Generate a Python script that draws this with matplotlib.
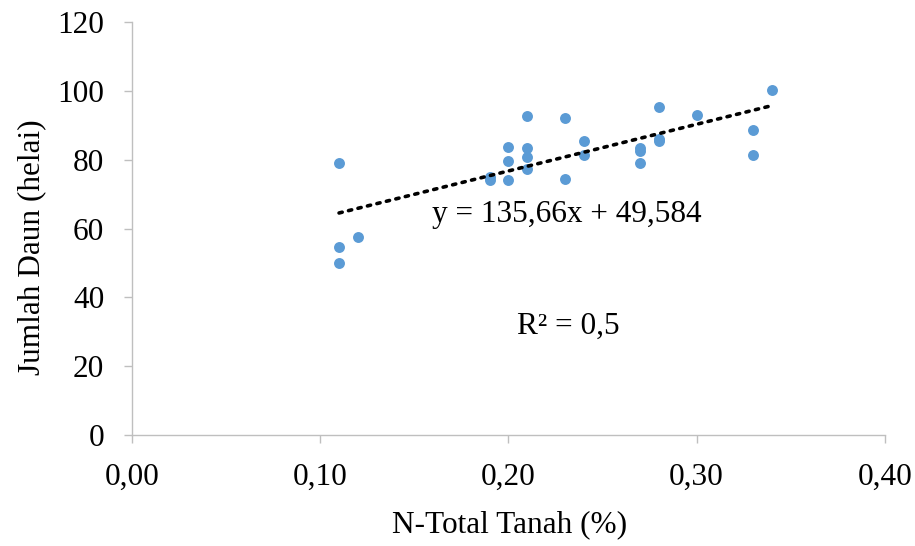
import numpy as np
import matplotlib.pyplot as plt

plt.rcParams['font.family'] = ['Liberation Serif', 'DejaVu Serif']

# Data
n_total = [0.11, 0.11, 0.11, 0.12, 0.19, 0.19, 0.20, 0.20, 0.20,
           0.21, 0.21, 0.21, 0.21, 0.23, 0.23, 0.24, 0.24,
           0.27, 0.27, 0.27, 0.28, 0.28, 0.28, 0.30, 0.33, 0.33, 0.34]
jumlah_daun = [79.0, 54.7, 49.9, 57.6, 74.1, 75.0, 83.8, 79.7, 74.1,
               92.7, 83.5, 80.7, 77.2, 92.2, 74.4, 85.3, 81.4,
               83.3, 82.4, 79.0, 95.3, 86.0, 85.5, 93.0, 88.6, 81.5, 100.1]

slope = 135.66
intercept = 49.584
x_ticks = [0.0, 0.1, 0.2, 0.3, 0.4]
x_labels = ['0,00', '0,10', '0,20', '0,30', '0,40']
y_ticks = [0, 20, 40, 60, 80, 100, 120]

fs = 22.5

fig = plt.figure(figsize=(9.15, 5.46), dpi=100)
ax = fig.add_axes([0.1443, 0.2033, 0.8227, 0.7564])

ax.scatter(n_total, jumlah_daun, s=62, color='#5B9BD5', zorder=3, linewidths=0)

xl = np.array([min(n_total), max(n_total)])
ax.plot(xl, slope * xl + intercept, color='black', linewidth=2.6,
        linestyle=(0, (0.9, 1.8)), dash_capstyle='round', zorder=4)

ax.text(0.231, 64.0, 'y = 135,66x + 49,584', fontsize=fs, ha='center', va='center')
ax.text(0.2318, 31.6, 'R² = 0,5', fontsize=fs, ha='center', va='center')

ax.set_xlim(0, 0.4)
ax.set_ylim(0, 120)
ax.set_xticks(x_ticks)
ax.set_xticklabels(x_labels)
ax.set_yticks(y_ticks)
ax.tick_params(labelsize=fs, color='#BFBFBF', length=6, width=1)
ax.tick_params(axis='x', pad=14)
ax.tick_params(axis='y', pad=14)
for side in ['top', 'right']:
    ax.spines[side].set_visible(False)
for side in ['left', 'bottom']:
    ax.spines[side].set_color('#BFBFBF')
    ax.spines[side].set_linewidth(1)

ax.set_xlabel('N-Total Tanah (%)', fontsize=fs)
ax.set_ylabel('Jumlah Daun (helai)', fontsize=fs)
ax.xaxis.set_label_coords(0.502, -0.182)
ax.yaxis.set_label_coords(-0.114, 0.455)

fig.savefig('out.png', dpi=100)
